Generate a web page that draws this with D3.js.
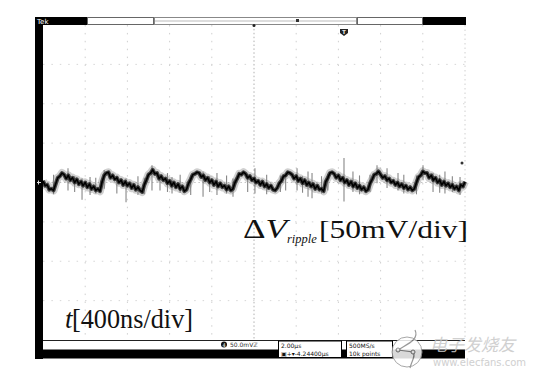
<!DOCTYPE html>
<html><head><meta charset="utf-8">
<script src="https://cdn.jsdelivr.net/npm/d3@7"></script>
<style>body{margin:0;background:#fff}svg{display:block}</style>
</head><body>
<svg id="c" width="538" height="378"></svg>
<script>
// time (ns) and ripple voltage (mV)
const timeNs = [-2000,-1980,-1960,-1940,-1920,-1900,-1880,-1860,-1840,-1820,-1800,-1780,-1760,-1740,-1720,-1700,-1680,-1660,-1640,-1620,-1600,-1580,-1560,-1540,-1520,-1500,-1480,-1460,-1440,-1420,-1400,-1380,-1360,-1340,-1320,-1300,-1280,-1260,-1240,-1220,-1200,-1180,-1160,-1140,-1120,-1100,-1080,-1060,-1040,-1020,-1000,-980,-960,-940,-920,-900,-880,-860,-840,-820,-800,-780,-760,-740,-720,-700,-680,-660,-640,-620,-600,-580,-560,-540,-520,-500,-480,-460,-440,-420,-400,-380,-360,-340,-320,-300,-280,-260,-240,-220,-200,-180,-160,-140,-120,-100,-80,-60,-40,-20,0,20,40,60,80,100,120,140,160,180,200,220,240,260,280,300,320,340,360,380,400,420,440,460,480,500,520,540,560,580,600,620,640,660,680,700,720,740,760,780,800,820,840,860,880,900,920,940,960,980,1000,1020,1040,1060,1080,1100,1120,1140,1160,1180,1200,1220,1240,1260,1280,1300,1320,1340,1360,1380,1400,1420,1440,1460,1480,1500,1520,1540,1560,1580,1600,1620,1640,1660,1680,1700,1720,1740,1760,1780,1800,1820,1840,1860,1880,1900,1920,1940,1960,1980,2000];
const rippleMv = [2,-4,-3,-9,-8, -10,-2,6,8,12, 10,5,9,3,6,0,4,-2,1,-4,0,-6,-2,-8,-5,-10,-8, -11,1,9,12, 13,6,9,4,6,0,3,-3,1,-4,-1,-7,-3,-9,-6,-10, -12,-3,3,10,12,16, 11,12,5,8,3,5,-1,2,-4,0,-6,-2,-8,-5,-11, -9,-1,4,10,11,13, 12,7,9,3,6,0,3,-3,1,-5,-1,-6,-4,-9,-5,-10, -8,0,5,11,10,13, 11,6,8,3,5,0,2,-3,1,-5,-2,-7,-4,-9,-10, -7,-1,2,8,9,13,12, 10,5,8,2,5,-1,3,-3,0,-5,-2,-8,-4,-9,-8, -11,1,6,12,13, 11,6,9,3,6,0,3,-3,1,-5,-1,-7,-4,-9,-6,-11, -9,-1,4,10,11,14, 10,6,8,3,5,0,2,-3,0,-5,-2,-7,-4,-9,-6,-10, -8,0,7,9,14,12, 12,6,9,3,6,0,3,-3,1,-4,-1,-6,-3,-8,-5,-10, -3,-5,1];
// noise spikes: time (ns), top (mV), bottom (mV)
const spikeNs  = [-1900,-1763,-1700,-1630,-1554,-1500,-1420,-1300,-1213,-1100,-1040,-967,-891,-820,-777,-700,-600,-483,-420,-351,-260,-199,-60,9,120,250,300,408,460,512,550,640,700,853,938,1000,1100,1166,1261,1365,1420,1540,1602,1697,1760,1810,1880,1953];
const spikeTop = [10,18,8,5,7,6,16,9,5,8,6,22,10,12,7,10,9,14,8,12,9,5,11,18,10,9,12,18,8,14,12,8,11,31,14,9,10,22,18,12,10,9,22,12,10,14,8,7];
const spikeBot = [-15,-10,-12,-22,-16,-14,-8,-14,-25,-16,-15,-10,-10,-12,-14,-13,-16,-18,-12,-16,-14,-18,-12,-14,-15,-12,-10,-10,-13,-18,-20,-14,-10,-24,-12,-15,-12,-1,-7,-10,-14,-15,3,-12,-13,-14,-12,-16];
const gridTimeNs = [-1600,-1200,-800,-400,0,400,800,1200,1600];
const gridMv = [-150,-100,-50,0,50,100,150];
const scaleText = "[50mV/div]";
const timeText = "[400ns/div]";

const svg = d3.select("#c");
const x = d3.scaleLinear().domain([-2000,2000]).range([43,465]);
const y = d3.scaleLinear().domain([-200,200]).range([340,25]);

// grid
const g = svg.append("g");
g.selectAll("line.v").data(gridTimeNs).join("line")
  .attr("x1",d=>x(d)).attr("x2",d=>x(d)).attr("y1",25).attr("y2",340)
  .attr("stroke",d=>d===0?"#b0b0b0":"#cfcfcf").attr("stroke-width",1)
  .attr("stroke-dasharray",d=>d===0?"1.5,2.4":"1.5,6.4");
g.selectAll("line.h").data(gridMv).join("line")
  .attr("y1",d=>y(d)).attr("y2",d=>y(d)).attr("x1",43).attr("x2",465)
  .attr("stroke",d=>d===0?"#c4c4c4":"#d6d6d6").attr("stroke-width",1)
  .attr("stroke-dasharray",d=>d===0?"1.5,2.7":"1.5,6.9");
g.append("line").attr("x1",465).attr("x2",465).attr("y1",25).attr("y2",340)
  .attr("stroke","#d0d0d0").attr("stroke-dasharray","1.5,3");

// spikes
svg.append("g").selectAll("line").data(spikeNs).join("line")
  .attr("x1",d=>x(d)).attr("x2",d=>x(d))
  .attr("y1",(d,i)=>y(spikeTop[i])).attr("y2",(d,i)=>y(spikeBot[i]))
  .attr("stroke","#555").attr("stroke-width",1.1).attr("opacity",0.7);

// trace
const pts = timeNs.map((t,i)=>[t,rippleMv[i]]);
const line = d3.line().x(d=>x(d[0])).y(d=>y(d[1]));
svg.append("path").datum(pts).attr("d",line)
  .attr("fill","none").attr("stroke","#777").attr("stroke-width",8).attr("opacity",0.35).attr("stroke-linejoin","round");
svg.append("path").datum(pts).attr("d",line)
  .attr("fill","none").attr("stroke","#222").attr("stroke-width",4).attr("opacity",0.8).attr("stroke-linejoin","round");
svg.append("path").datum(pts).attr("d",line)
  .attr("fill","none").attr("stroke","#000").attr("stroke-width",1.6).attr("stroke-linejoin","round");

// left black bar
svg.append("rect").attr("x",35).attr("y",17).attr("width",8).attr("height",342).attr("fill","#000");
// top bar
svg.append("rect").attr("x",35).attr("y",17).attr("width",52).attr("height",8).attr("fill","#000");
svg.append("text").attr("x",37).attr("y",23.5).attr("fill","#fff").attr("font-size",7).attr("font-family","DejaVu Sans").text("Tek");
svg.append("rect").attr("x",87.5).attr("y",17.5).attr("width",66).attr("height",7).attr("fill","#fff").attr("stroke","#666");
svg.append("rect").attr("x",154.5).attr("y",17.5).attr("width",202).attr("height",7).attr("fill","#fff").attr("stroke","#888");
svg.append("line").attr("x1",155).attr("x2",356).attr("y1",21).attr("y2",21).attr("stroke","#bbb");
svg.append("rect").attr("x",357.5).attr("y",17.5).attr("width",65).attr("height",7).attr("fill","#fff").attr("stroke","#666");
svg.append("rect").attr("x",423).attr("y",17).attr("width",43).attr("height",8).attr("fill","#000");
// top markers
svg.append("rect").attr("x",296).attr("y",19).attr("width",3).attr("height",3).attr("fill","#333");
svg.append("circle").attr("cx",x(0)).attr("cy",25.5).attr("r",1.5).attr("fill","#222");
svg.append("path").attr("d","M340,29 h8 v4 l-4,3 l-4,-3 z").attr("fill","#222");
svg.append("text").attr("x",344).attr("y",33.5).attr("text-anchor","middle").attr("fill","#fff").attr("font-size",5).attr("font-family","DejaVu Sans").attr("font-weight","bold").text("T");
svg.append("circle").attr("cx",462).attr("cy",163).attr("r",1.5).attr("fill","#333");
// channel ground marker
svg.append("path").attr("d",`M37,${y(0)} h4 M38.5,${y(0)-2} v4`).attr("stroke","#ddd").attr("stroke-width",1);

// bottom status
svg.append("line").attr("x1",43).attr("x2",465).attr("y1",340.5).attr("y2",340.5).attr("stroke","#222").attr("stroke-width",1.2);
svg.append("rect").attr("x",35).attr("y",349.5).attr("width",430).attr("height",9).attr("fill","#000");
svg.append("circle").attr("cx",224).attr("cy",344.5).attr("r",3).attr("fill","#111");
svg.append("text").attr("x",224).attr("y",346.5).attr("text-anchor","middle").attr("fill","#fff").attr("font-size",5).attr("font-family","DejaVu Sans").text("4");
svg.append("text").attr("x",230).attr("y",347).attr("fill","#333").attr("font-size",6).attr("font-family","DejaVu Sans").text("50.0mV\u2124");
svg.append("rect").attr("x",278.5).attr("y",341).attr("width",63).attr("height",16.5).attr("fill","#fff").attr("stroke","#000");
svg.append("text").attr("x",281).attr("y",347.5).attr("fill","#111").attr("font-size",6).attr("font-family","DejaVu Sans").text("2.00\u00b5s");
svg.append("text").attr("x",281).attr("y",355.5).attr("fill","#111").attr("font-size",6).attr("font-family","DejaVu Sans").text("\u25a3+\u25be-4.24400\u00b5s");
svg.append("rect").attr("x",346.5).attr("y",341).attr("width",46).attr("height",16.5).attr("fill","#fff").attr("stroke","#000");
svg.append("text").attr("x",349).attr("y",347.5).attr("fill","#111").attr("font-size",6).attr("font-family","DejaVu Sans").text("500MS/s");
svg.append("text").attr("x",349).attr("y",355.5).attr("fill","#111").attr("font-size",6).attr("font-family","DejaVu Sans").text("10k points");

// labels
const serif = "Liberation Serif";
const lab = svg.append("text").attr("x",243).attr("y",238).attr("font-family",serif).attr("font-size",27).attr("fill","#111")
  .attr("textLength",44).attr("lengthAdjust","spacingAndGlyphs");
lab.append("tspan").text("\u0394");
lab.append("tspan").attr("font-style","italic").text("V");
svg.append("text").attr("x",287).attr("y",243).attr("font-family",serif).attr("font-size",12.5).attr("font-style","italic").attr("fill","#111")
  .text("ripple");
svg.append("text").attr("x",319).attr("y",238).attr("font-family",serif).attr("font-size",26).attr("fill","#111")
  .attr("textLength",149).attr("lengthAdjust","spacingAndGlyphs").text(scaleText);
svg.append("text").attr("x",65).attr("y",328).attr("font-family",serif).attr("font-size",27).attr("font-style","italic").attr("fill","#111").text("t");
svg.append("text").attr("x",72).attr("y",328).attr("font-family",serif).attr("font-size",27).attr("fill","#111")
  .attr("textLength",121).attr("lengthAdjust","spacingAndGlyphs").text(timeText);

// watermark
const wm = svg.append("g").attr("opacity",0.85);
wm.append("circle").attr("cx",407).attr("cy",352).attr("r",15).attr("fill","#fff").attr("stroke","#999");
wm.append("path").attr("d","M415,330 C420,340 405,345 398,350 M398,350 L413,352 C416,356 412,360 410,368").attr("fill","none").attr("stroke","#888").attr("stroke-width",1.2);
wm.append("circle").attr("cx",398).attr("cy",350).attr("r",2).attr("fill","#fff").attr("stroke","#777");
wm.append("circle").attr("cx",413).attr("cy",352).attr("r",2).attr("fill","#fff").attr("stroke","#777");
wm.append("text").attr("x",430).attr("y",351).attr("font-family","Noto Sans CJK SC").attr("font-size",17).attr("fill","#c8c8c8").attr("font-style","italic").text("\u7535\u5b50\u53d1\u70e7\u53cb");
wm.append("text").attr("x",433).attr("y",366).attr("font-family","DejaVu Sans").attr("font-size",10).attr("fill","#c8c8c8").text("www.elecfans.com");
</script>
</body></html>
